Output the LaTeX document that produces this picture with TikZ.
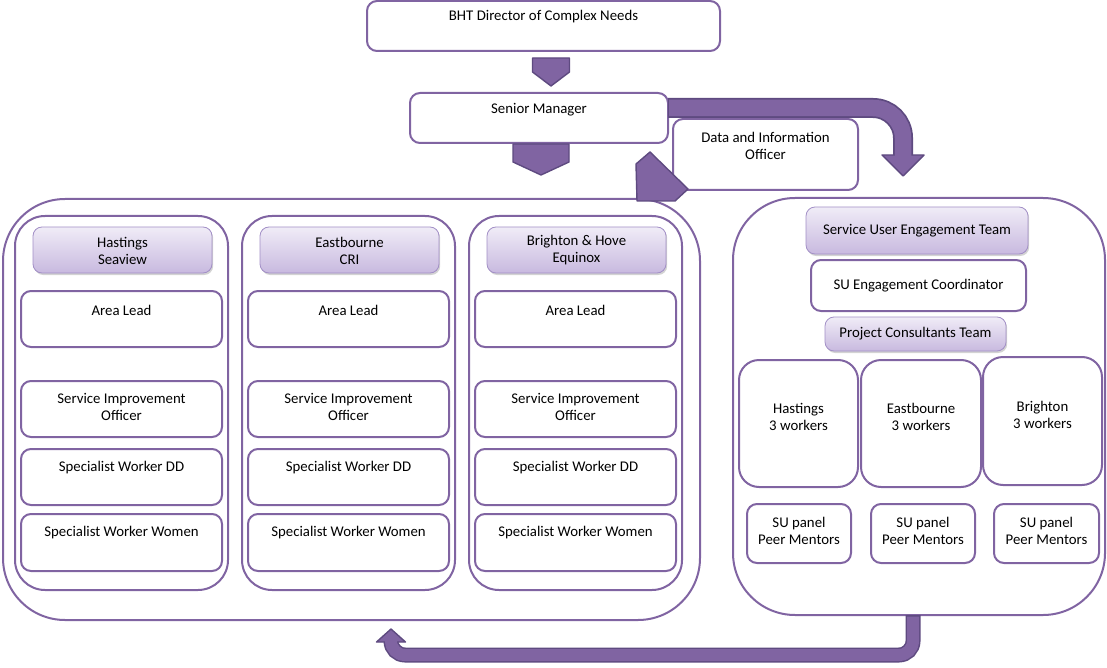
\documentclass[tikz,border=0pt]{standalone}
\usepackage{fontspec}
\setmainfont{Carlito}
\usetikzlibrary{shadows,calc}

\definecolor{pur}{HTML}{8064A2}
\definecolor{purdark}{HTML}{5E4A80}
\definecolor{hdtop}{HTML}{F0ECF7}
\definecolor{hdbot}{HTML}{C8B9DF}
\definecolor{hdline}{HTML}{A28FC6}

\tikzset{
  base/.style={inner sep=0pt, outer sep=0pt},
  box/.style={base, draw=pur, line width=2pt, rounded corners=10pt, fill=white},
  bigbox/.style={base, draw=pur, line width=2pt, rounded corners=62pt},
  colbox/.style={base, draw=pur, line width=2pt, rounded corners=30pt},
  workbox/.style={base, draw=pur, line width=2pt, rounded corners=20pt, fill=white},
  hdr/.style={base, draw=hdline, line width=0.8pt, rounded corners=9pt,
    top color=hdtop, bottom color=hdbot,
    drop shadow={opacity=0.35, shadow xshift=1.2pt, shadow yshift=-2pt}},
  txt/.style={base, align=center, font=\fontsize{14.8}{17}\selectfont},
  blockarrow/.style={fill=pur, draw=purdark, line width=1.4pt, line join=round},
  shaftout/.style={draw=purdark, line cap=butt},
  shaftin/.style={draw=pur, line cap=butt},
}

% box with its label: style, name, x1, y1, x2, y2, label y, label
\newcommand\tbox[8]{%
  \node[#1, minimum width={(#5)-(#3)}, minimum height={(#6)-(#4)}] (#2)
    at ({((#3)+(#5))/2},{((#4)+(#6))/2}) {};
  \node[txt] (#2-t) at ({((#3)+(#5))/2},#7) {#8};
}

\begin{document}
\begin{tikzpicture}[x=1pt,y=-1pt]
\useasboundingbox (0,0) rectangle (1107,668);

% top of the hierarchy
\tbox{box}{dir}{367}{1}{720}{51}{17}{BHT Director of Complex Needs}
\tbox{box}{sm}{410}{93}{668}{143}{110}{Senior Manager}

% left group of area teams
\node[bigbox, minimum width=697pt, minimum height=421pt] (lc) at (351.5,409.5) {};

\foreach \i/\x/\a/\b in {1/15/Hastings/Seaview, 2/242/Eastbourne/CRI, 3/469/Brighton \& Hove/Equinox}{
  \node[colbox, minimum width=213pt, minimum height=374pt] (col\i) at ({\x+106.5},403) {};
  \tbox{hdr}{hd\i}{\x+18}{227}{\x+197}{273}{250.5}{\a\\\b}
  \tbox{box}{al\i}{\x+6}{291}{\x+207}{347}{310}{Area Lead}
  \tbox{box}{sio\i}{\x+6}{381}{\x+207}{437}{406.5}{Service Improvement\\Officer}
  \tbox{box}{dd\i}{\x+6}{449}{\x+207}{505}{468}{Specialist Worker DD}
  \tbox{box}{ww\i}{\x+6}{514}{\x+207}{571}{533}{Specialist Worker Women}
}

% right group: service user engagement
\node[bigbox, minimum width=372pt, minimum height=417pt] (rc) at (919,406.5) {};
\tbox{hdr}{suet}{806}{207}{1028}{254}{230.5}{Service User Engagement Team}
\tbox{box}{suec}{811}{260}{1026}{311}{285.5}{SU Engagement Coordinator}
\tbox{hdr}{pct}{825}{317}{1006}{351}{333.5}{Project Consultants Team}
\tbox{workbox}{wh}{739}{360}{858}{487}{416.5}{Hastings\\3 workers}
\tbox{workbox}{we}{861}{360}{981}{487}{416.5}{Eastbourne\\3 workers}
\tbox{workbox}{wb}{983}{357}{1102}{485}{414.5}{Brighton\\3 workers}
\tbox{box}{sp1}{747}{504}{851}{563}{530.5}{SU panel\\Peer Mentors}
\tbox{box}{sp2}{871}{504}{975}{563}{530.5}{SU panel\\Peer Mentors}
\tbox{box}{sp3}{994}{504}{1099}{563}{530.5}{SU panel\\Peer Mentors}

% data officer beside the senior manager
\tbox{box}{dio}{673}{119}{858}{190}{145.5}{Data and Information\\Officer}

% chevrons down the hierarchy
\draw[blockarrow] ($(dir.south)+(-11,7)$) -- ++(37,0) -- ++(0,14) -- ++(-18.5,14) -- ++(-18.5,-14) -- cycle;
\draw[blockarrow] ($(sm.south)+(-26,1)$) -- ++(56,0) -- ++(0,18) -- ++(-28,13) -- ++(-28,-13) -- cycle;

% slanted chevron at the corner of the area group
\draw[blockarrow] (650,152) -- (688,189) -- (675,201) -- (637,201) -- (636,164) -- cycle;

% bent arrow from the senior manager to the engagement team
\coordinate (r1) at ($(sm.east)+(0,-10)$);
\coordinate (r2) at (903,176);
\draw[shaftout, line width=20pt, rounded corners=30pt] (r1) -- (r1 -| r2) -- ($(r2)+(0,-20)$);
\draw[blockarrow] ($(r2)+(-21,-21)$) -- ($(r2)+(21,-21)$) -- (r2) -- cycle;
\draw[shaftin, line width=16.5pt, rounded corners=30pt] ($(r1)+(1,0)$) -- (r1 -| r2) -- ($(r2)+(0,-19.5)$);

% return arrow from the engagement team to the area teams
\coordinate (b1) at (rc.south -| 913,0);
\coordinate (b2) at (391,629);
\draw[shaftout, line width=15pt, rounded corners=14pt] (b1) -- (913,655) -- (b2 |- 0,655) -- ($(b2)+(0,13)$);
\draw[blockarrow] ($(b2)+(-14.5,13)$) -- ($(b2)+(14.5,13)$) -- (b2) -- cycle;
\draw[shaftin, line width=12pt, rounded corners=14pt] ($(b1)+(0,1.5)$) -- (913,655) -- (b2 |- 0,655) -- ($(b2)+(0,12.5)$);
\end{tikzpicture}
\end{document}
